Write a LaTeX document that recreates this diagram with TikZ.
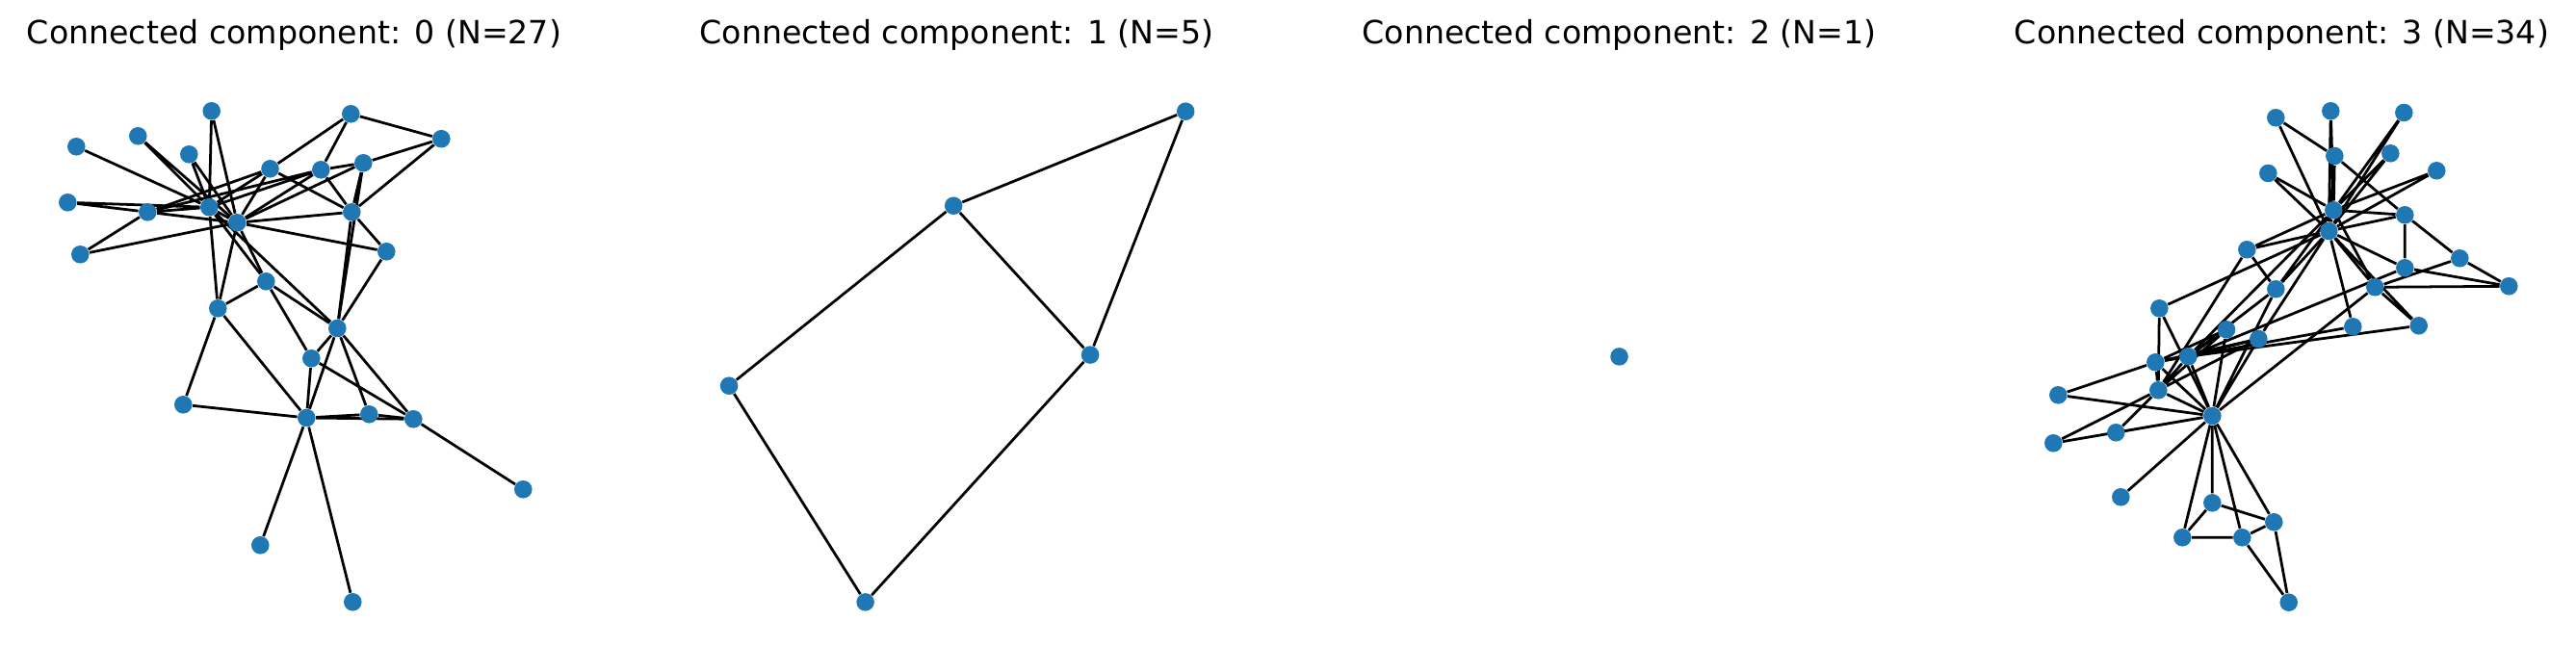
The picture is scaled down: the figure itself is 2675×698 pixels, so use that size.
\documentclass[tikz,border=0pt]{standalone}
\usepackage{fontspec}
\setmainfont{DejaVu Sans}
\usetikzlibrary{backgrounds}
\definecolor{nxblue}{RGB}{31,119,180}
\tikzset{
  dot/.style={circle, fill=nxblue, inner sep=0pt, minimum size=6.7pt},
  link/.style={line width=1pt, black},
  paneltitle/.style={anchor=base, inner sep=0pt, font=\fontsize{12}{14}\selectfont}
}
\begin{document}
\begin{tikzpicture}[x=0.3613pt, y=-0.3613pt]
\useasboundingbox (0,0) rectangle (2675,698);

\node[paneltitle] (t0) at (305.5,46) {Connected component: 0 (N=27)};
\node[paneltitle] (t1) at (993.5,46) {Connected component: 1 (N=5)};
\node[paneltitle] (t2) at (1681.5,46) {Connected component: 2 (N=1)};
\node[paneltitle] (t3) at (2369.5,46) {Connected component: 3 (N=34)};

% component 0
\node[dot] (n1) at (219.7,115.3) {};
\node[dot] (n2) at (364.3,118.3) {};
\node[dot] (n3) at (458.3,144.2) {};
\node[dot] (n4) at (79.3,152.3) {};
\node[dot] (n5) at (143.3,141.3) {};
\node[dot] (n6) at (196.3,160.3) {};
\node[dot] (n7) at (280.5,175.3) {};
\node[dot] (n8) at (333.3,176.3) {};
\node[dot] (n9) at (377.3,169.3) {};
\node[dot] (n10) at (70.3,210.3) {};
\node[dot] (n11) at (153.3,220.3) {};
\node[dot] (n12) at (217.3,215.3) {};
\node[dot] (n13) at (246.3,231.3) {};
\node[dot] (n14) at (365.3,220.3) {};
\node[dot] (n15) at (83.3,264.3) {};
\node[dot] (n16) at (401.3,261.3) {};
\node[dot] (n17) at (276.3,292.3) {};
\node[dot] (n18) at (226.3,320.3) {};
\node[dot] (n19) at (350.3,341) {};
\node[dot] (n20) at (323.3,372.3) {};
\node[dot] (n21) at (190.3,420.3) {};
\node[dot] (n22) at (318.3,434) {};
\node[dot] (n23) at (383.3,430.3) {};
\node[dot] (n24) at (429.3,435.3) {};
\node[dot] (n25) at (543.3,508.3) {};
\node[dot] (n26) at (270.3,566.3) {};
\node[dot] (n27) at (366.3,625.3) {};

% component 1
\node[dot] (h1) at (1231.2,115.7) {};
\node[dot] (h2) at (990.2,213.7) {};
\node[dot] (h3) at (1132.1,368.6) {};
\node[dot] (h4) at (757.1,400.7) {};
\node[dot] (h5) at (898.6,625.4) {};

% component 2
\node[dot] (solo) at (1681.5,370.4) {};

% component 3
\node[dot] (k0) at (2297.3,432) {};
\node[dot] (k1) at (2241.3,405.3) {};
\node[dot] (k2) at (2272.3,370.3) {};
\node[dot] (k3) at (2238.3,376.3) {};
\node[dot] (k4) at (2266.3,558.3) {};
\node[dot] (k5) at (2361.3,542.3) {};
\node[dot] (k6) at (2328.3,558.3) {};
\node[dot] (k7) at (2312,342.3) {};
\node[dot] (k8) at (2363.3,300.3) {};
\node[dot] (k9) at (2443.3,339.3) {};
\node[dot] (k10) at (2297.3,522.3) {};
\node[dot] (k11) at (2202.3,516.3) {};
\node[dot] (k12) at (2137.3,410.3) {};
\node[dot] (k13) at (2345.3,352) {};
\node[dot] (k14) at (2420.3,115.3) {};
\node[dot] (k15) at (2496.3,117) {};
\node[dot] (k16) at (2376.7,625.7) {};
\node[dot] (k17) at (2197.3,449.3) {};
\node[dot] (k18) at (2482.3,159.3) {};
\node[dot] (k19) at (2242.3,320.3) {};
\node[dot] (k20) at (2355.3,180) {};
\node[dot] (k21) at (2132.3,460.3) {};
\node[dot] (k22) at (2530.3,177.3) {};
\node[dot] (k23) at (2497.3,223.3) {};
\node[dot] (k24) at (2605.3,297.3) {};
\node[dot] (k25) at (2554.3,268.3) {};
\node[dot] (k26) at (2363.3,122.3) {};
\node[dot] (k27) at (2497.3,278.3) {};
\node[dot] (k28) at (2511.7,338.3) {};
\node[dot] (k29) at (2424.3,162) {};
\node[dot] (k30) at (2333.3,259.3) {};
\node[dot] (k31) at (2466.3,298.3) {};
\node[dot] (k32) at (2423.3,218.3) {};
\node[dot] (k33) at (2418.3,240) {};

\begin{pgfonlayer}{background}
% edges, component 0
\draw[link] (n1) -- (n12) (n1) -- (n13);
\draw[link] (n2) -- (n3) (n2) -- (n7) (n2) -- (n8);
\draw[link] (n3) -- (n14) (n3) -- (n9);
\draw[link] (n4) -- (n12);
\draw[link] (n5) -- (n12) (n5) -- (n13);
\draw[link] (n6) -- (n12) (n6) -- (n13);
\draw[link] (n7) -- (n12) (n7) -- (n13) (n7) -- (n11) (n7) -- (n14);
\draw[link] (n8) -- (n11) (n8) -- (n9) (n8) -- (n12) (n8) -- (n13) (n8) -- (n14);
\draw[link] (n9) -- (n13) (n9) -- (n14) (n9) -- (n19);
\draw[link] (n10) -- (n12) (n10) -- (n11);
\draw[link] (n11) -- (n12) (n11) -- (n13) (n11) -- (n15);
\draw[link] (n15) -- (n13);
\draw[link] (n12) -- (n13) (n12) -- (n17) (n12) -- (n18) (n12) -- (n19);
\draw[link] (n13) -- (n14) (n13) -- (n16) (n13) -- (n17) (n13) -- (n18);
\draw[link] (n14) -- (n16) (n14) -- (n19);
\draw[link] (n16) -- (n19);
\draw[link] (n17) -- (n18) (n17) -- (n19) (n17) -- (n20);
\draw[link] (n19) -- (n20) (n19) -- (n22) (n19) -- (n23) (n19) -- (n24);
\draw[link] (n20) -- (n22) (n20) -- (n24);
\draw[link] (n18) -- (n22) (n18) -- (n21);
\draw[link] (n21) -- (n22);
\draw[link] (n22) -- (n23) (n22) -- (n24) (n22) -- (n26) (n22) -- (n27);
\draw[link] (n23) -- (n24) (n24) -- (n25);

% edges, component 1
\draw[link] (h1) -- (h2) (h1) -- (h3) (h2) -- (h3);
\draw[link] (h2) -- (h4) (h4) -- (h5) (h5) -- (h3);

% edges, component 3
\draw[link] (k0) -- (k1) (k0) -- (k2) (k0) -- (k3) (k0) -- (k4) (k0) -- (k5) (k0) -- (k6);
\draw[link] (k0) -- (k7) (k0) -- (k8) (k0) -- (k10) (k0) -- (k11) (k0) -- (k12) (k0) -- (k13);
\draw[link] (k0) -- (k17) (k0) -- (k19) (k0) -- (k21) (k0) -- (k31);
\draw[link] (k1) -- (k2) (k1) -- (k3) (k1) -- (k7) (k1) -- (k13);
\draw[link] (k1) -- (k17) (k1) -- (k19) (k1) -- (k21) (k1) -- (k30);
\draw[link] (k2) -- (k3) (k2) -- (k7) (k2) -- (k8) (k2) -- (k9);
\draw[link] (k2) -- (k13) (k2) -- (k27) (k2) -- (k28) (k2) -- (k32);
\draw[link] (k3) -- (k7) (k3) -- (k12) (k3) -- (k13);
\draw[link] (k4) -- (k6) (k4) -- (k10);
\draw[link] (k5) -- (k6) (k5) -- (k10) (k5) -- (k16) (k6) -- (k16);
\draw[link] (k8) -- (k30) (k8) -- (k32) (k8) -- (k33);
\draw[link] (k9) -- (k33) (k13) -- (k33) (k19) -- (k33);
\draw[link] (k14) -- (k32) (k14) -- (k33) (k15) -- (k32) (k15) -- (k33);
\draw[link] (k18) -- (k32) (k18) -- (k33) (k20) -- (k32) (k20) -- (k33);
\draw[link] (k22) -- (k32) (k22) -- (k33);
\draw[link] (k23) -- (k25) (k23) -- (k27) (k23) -- (k29) (k23) -- (k32) (k23) -- (k33);
\draw[link] (k24) -- (k25) (k24) -- (k27) (k24) -- (k31) (k25) -- (k31);
\draw[link] (k26) -- (k29) (k26) -- (k33) (k27) -- (k33);
\draw[link] (k28) -- (k31) (k28) -- (k33);
\draw[link] (k29) -- (k32) (k29) -- (k33) (k30) -- (k32) (k30) -- (k33);
\draw[link] (k31) -- (k32) (k31) -- (k33) (k32) -- (k33);
\end{pgfonlayer}
\end{tikzpicture}
\end{document}
